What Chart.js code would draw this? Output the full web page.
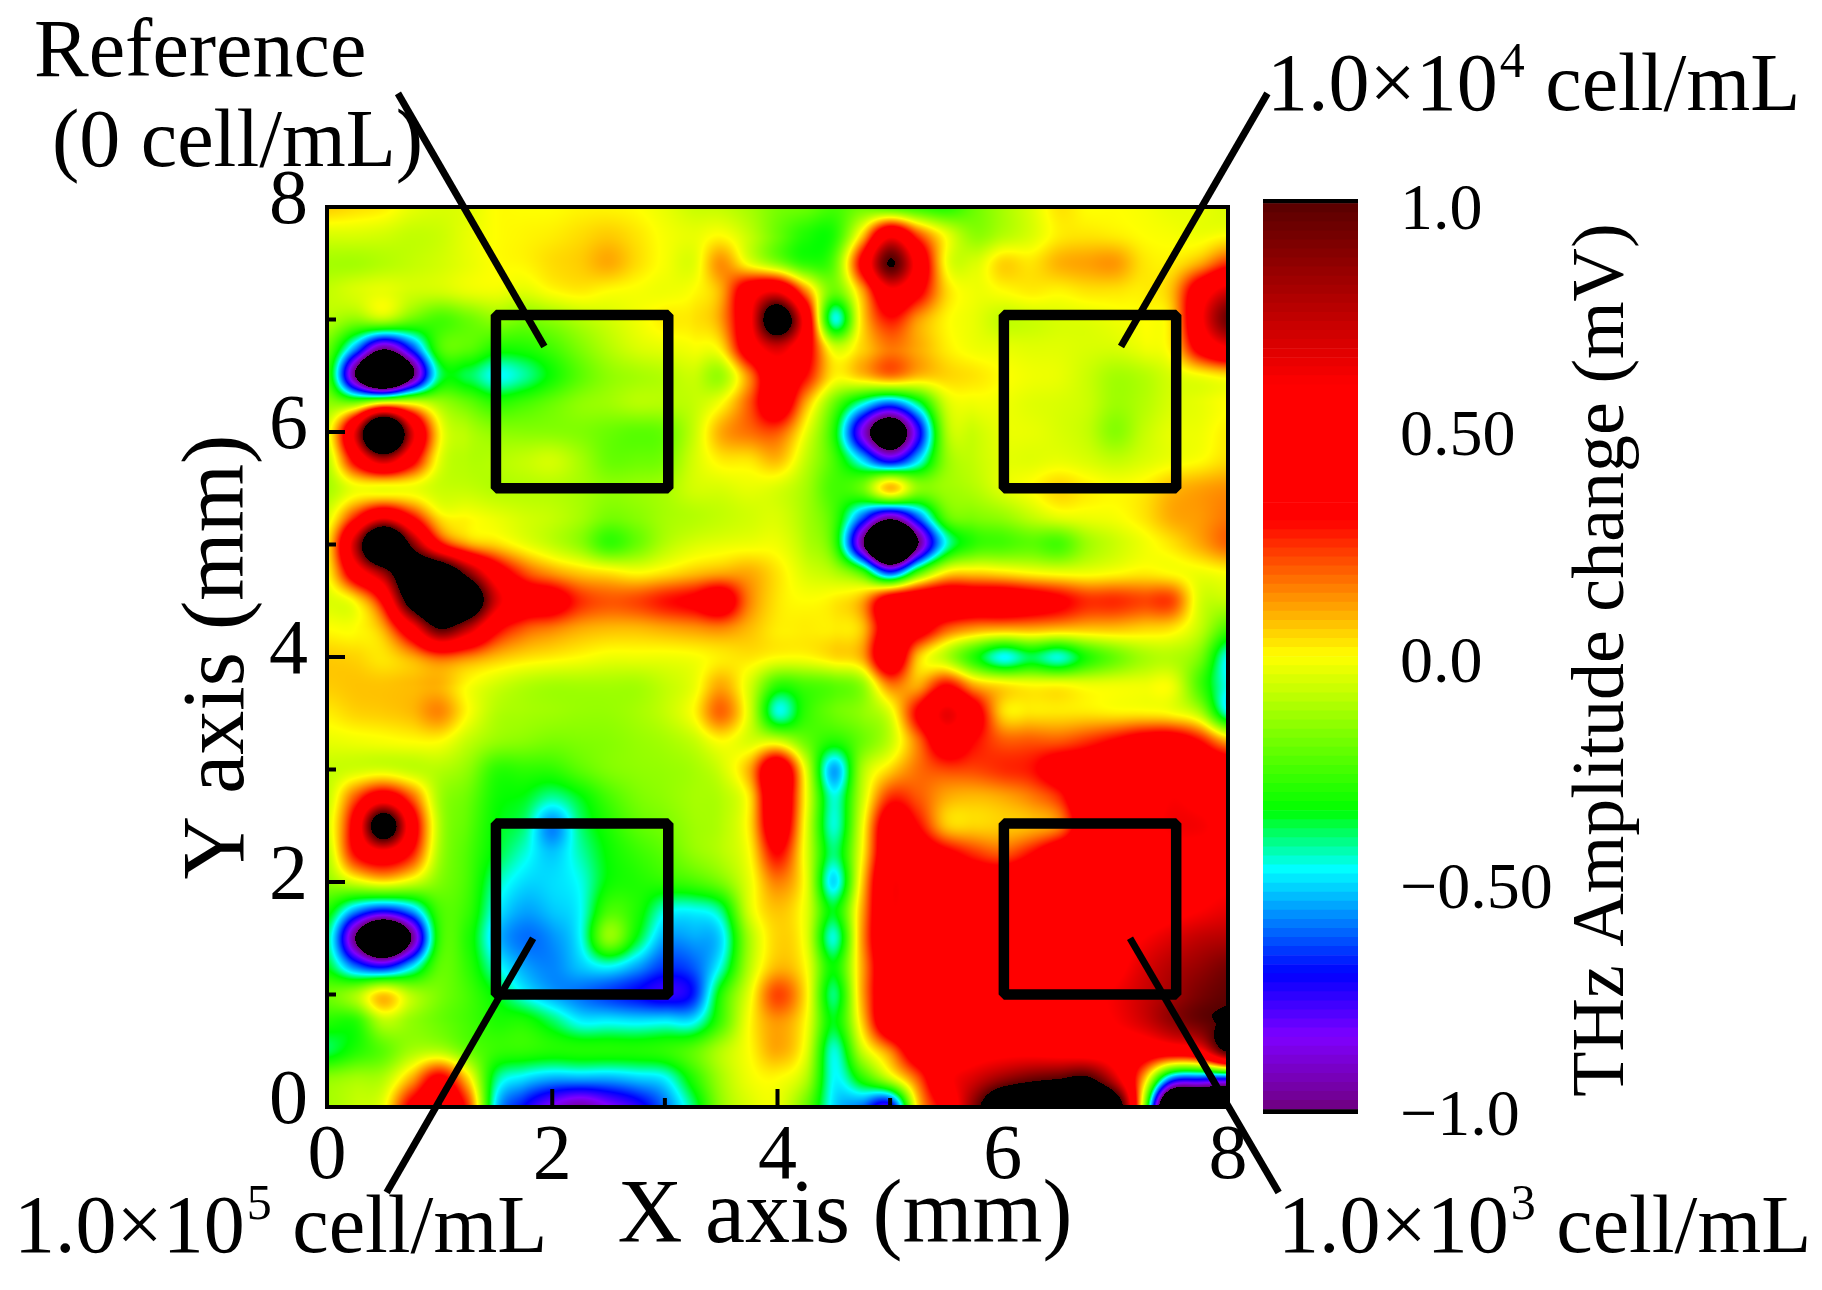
<!DOCTYPE html>
<html lang="en">
  <head>
    <meta charset="UTF-8" />
    <title>THz amplitude map</title>
    <style>
      body { margin: 0; background: #fff; }
      canvas { position: absolute; top: 0; }
    </style>
  </head>
  <body>
    <canvas id="map" width="1822" height="1290" style="left:0"></canvas>
    <canvas id="bar" width="582" height="1290" style="left:1240px"></canvas>
    <script src="https://cdn.jsdelivr.net/npm/chart.js"></script>
    <script>
      // one row per y position, top row first
      const gridX = [0,.25,.5,.75,1,1.25,1.5,1.75,2,2.25,2.5,2.75,3,3.25,3.5,3.75,4,4.25,4.5,4.75,5,5.25,5.5,5.75,6,6.25,6.5,6.75,7,7.25,7.5,7.75,8];
      const gridY = [8,7.75,7.5,7.25,7,6.75,6.5,6.25,6,5.75,5.5,5.25,5,4.75,4.5,4.25,4,3.75,3.5,3.25,3,2.75,2.5,2.25,2,1.75,1.5,1.25,1,.75,.5,.25,0];
      const amplitude = [
        [.06,.04,.02,-.03,-.05,-.04,0,0,0,.01,.01,0,-.03,-.07,-.08,-.12,-.18,-.2,-.25,-.2,-.25,-.28,-.3,-.2,-.12,-.05,.03,0,0,-.01,-.03,-.03,-.05],
        [-.05,-.05,-.06,-.08,-.07,-.03,0,.01,.02,.04,.06,.03,-.01,-.03,0,-.08,-.2,-.3,-.3,.05,.55,.22,-.02,-.15,-.1,-.05,.02,.03,.02,0,-.01,-.02,0],
        [-.12,-.12,-.1,-.08,-.06,-.03,0,.01,.04,.06,.1,.04,-.01,-.04,.13,-.02,-.15,-.28,-.22,.35,1.02,.5,-.01,-.05,.05,.03,.09,.11,.12,.03,.02,.1,.25],
        [-.08,-.05,-.03,-.06,-.06,-.03,-.02,-.04,0,.02,0,-.01,-.02,0,.1,.45,.6,.15,-.2,.1,.55,.35,.05,-.02,0,.02,.01,.03,.03,.02,.08,.45,.7],
        [-.1,-.15,-.1,-.2,-.25,-.2,-.15,-.18,-.15,-.1,-.06,-.02,.02,.03,.12,.55,1.3,.5,-.45,.04,.28,.12,.01,-.03,-.08,-.07,-.05,-.04,-.02,0,.05,.55,.95],
        [-.2,-.55,-.95,-.65,-.25,-.22,-.3,-.3,-.25,-.17,-.1,-.05,-.03,-.01,.03,.45,.7,.4,-.05,.05,.16,.1,.02,-.02,-.03,-.04,-.04,-.05,-.05,-.02,.03,.38,.6],
        [-.25,-1,-1.6,-1.05,-.4,-.38,-.47,-.42,-.32,-.22,-.15,-.12,-.1,-.07,-.13,.15,.5,.3,.02,.07,.16,.08,.05,.03,0,-.02,-.03,-.07,-.12,-.1,-.05,-.01,.03],
        [-.15,-.15,.05,0,-.12,-.2,-.28,-.25,-.2,-.15,-.13,-.1,-.1,-.08,0,.2,.45,.1,-.2,-.45,-.62,-.4,-.06,-.02,-.02,-.04,-.05,-.07,-.13,-.1,-.05,-.03,0],
        [-.05,.65,1.8,.7,.02,-.1,-.15,-.16,-.16,-.17,-.2,-.22,-.2,-.08,.1,.17,.2,-.02,-.3,-.85,-1.25,-.75,-.12,-.07,-.03,-.03,-.05,-.08,-.16,-.08,-.03,-.02,.02],
        [-.1,.35,.75,.38,-.03,-.1,-.1,-.08,-.06,-.12,-.2,-.2,-.18,-.06,.02,.03,.08,-.08,-.25,-.5,-.75,-.5,-.15,-.08,-.04,-.04,-.03,-.05,-.08,-.05,-.02,0,.04],
        [-.12,-.02,-.02,-.02,-.07,-.08,-.1,-.1,-.1,-.12,-.15,-.14,-.12,-.06,-.05,-.03,-.05,-.12,-.25,-.2,.08,-.15,-.13,-.1,-.04,0,.05,.02,0,.02,.08,.11,.13],
        [-.05,.25,.55,.3,.03,0,-.03,-.06,-.08,-.12,-.18,-.16,-.12,-.1,-.08,-.06,-.05,-.12,-.25,-.6,-.9,-.6,-.22,-.17,-.14,-.08,-.03,-.02,-.01,.03,.1,.12,.16],
        [.02,.75,1.7,.95,.35,.12,.05,-.02,-.08,-.15,-.27,-.2,-.1,-.05,-.03,-.02,-.02,-.1,-.25,-.95,-1.7,-1,-.45,-.28,-.25,-.22,-.25,-.13,-.07,-.02,.03,.1,.18],
        [0,.45,.85,1.4,1.4,.9,.45,.22,.12,.06,.03,0,.03,.07,.1,.1,.03,-.05,-.1,-.25,-.65,-.25,.02,.05,.03,0,-.02,-.02,0,.02,0,-.02,0],
        [-.05,.02,.35,1.2,1.6,1.4,.7,.45,.4,.25,.2,.22,.28,.33,.42,.15,.03,0,.02,.1,.45,.5,.5,.45,.45,.4,.33,.25,.25,.22,.22,-.05,-.08],
        [0,0,.1,.5,1,.75,.35,.2,.15,.1,.08,.08,.1,.12,.14,.08,.02,.02,.02,.07,.45,.4,.2,.12,.1,.1,.08,.07,.07,.05,.03,-.08,-.25],
        [.06,.05,.03,.1,.2,.15,.08,.04,.02,0,-.02,-.02,-.02,-.01,.02,.03,0,0,.04,.1,.5,.07,-.1,-.3,-.47,-.38,-.45,-.3,-.2,-.12,-.1,-.18,-.47],
        [.06,.07,.07,.08,.09,0,-.06,-.1,-.12,-.12,-.12,-.12,-.08,-.03,.1,-.05,-.28,-.25,-.22,-.15,.15,.1,.3,.1,.03,0,0,-.02,-.02,-.02,-.02,-.25,-.47],
        [.02,.05,.06,.08,.14,0,-.1,-.12,-.13,-.14,-.14,-.12,-.08,0,.18,-.05,-.45,-.28,-.2,-.15,-.04,.33,.65,.4,.05,.03,.03,.03,.02,.02,0,-.1,-.45],
        [-.03,-.02,-.01,0,0,-.08,-.14,-.16,-.18,-.17,-.16,-.14,-.12,-.08,0,-.05,-.05,-.2,-.3,-.2,-.08,.17,.45,.3,.2,.2,.2,.25,.32,.4,.42,.3,.1],
        [-.08,-.06,-.05,-.08,-.1,-.15,-.28,-.28,-.28,-.22,-.17,-.15,-.14,-.12,-.06,.1,.5,-.03,-.55,-.12,.05,.17,.22,.22,.25,.28,.4,.45,.5,.55,.55,.5,.45],
        [-.08,.2,.45,.2,-.12,-.2,-.32,-.35,-.42,-.35,-.25,-.18,-.15,-.12,-.1,.03,.5,0,-.45,-.08,.25,.2,.1,.08,.1,.15,.25,.5,.5,.5,.6,.55,.5],
        [-.06,.4,1.3,.45,-.1,-.22,-.34,-.4,-.58,-.4,-.3,-.22,-.18,-.13,-.1,.03,.45,-.02,-.45,-.03,.45,.3,.07,.05,.06,.08,.15,.45,.5,.55,.62,.62,.55],
        [-.1,.3,.5,.28,-.12,-.24,-.36,-.45,-.52,-.43,-.33,-.27,-.22,-.15,-.1,0,.3,-.03,-.4,0,.5,.45,.35,.25,.2,.3,.45,.5,.5,.5,.55,.55,.55],
        [-.15,-.05,.02,-.05,-.17,-.25,-.42,-.5,-.5,-.46,-.33,-.3,-.28,-.25,-.18,-.03,.15,-.02,-.5,.05,.58,.5,.48,.45,.45,.5,.5,.5,.5,.5,.52,.55,.58],
        [-.3,-.55,-.68,-.55,-.25,-.27,-.47,-.55,-.52,-.47,-.25,-.3,-.45,-.47,-.4,-.05,.07,-.03,-.35,.1,.58,.5,.5,.5,.5,.5,.5,.5,.5,.5,.55,.6,.65],
        [-.4,-1,-1.5,-1,-.28,-.3,-.52,-.6,-.57,-.47,-.15,-.35,-.55,-.55,-.5,-.12,.05,-.03,-.45,.12,.55,.5,.5,.5,.5,.5,.5,.5,.52,.6,.68,.75,.78],
        [-.35,-.6,-.72,-.5,-.22,-.28,-.45,-.55,-.58,-.52,-.47,-.55,-.65,-.62,-.45,-.1,.08,0,-.33,.1,.5,.5,.5,.5,.5,.5,.5,.5,.55,.68,.78,.85,.92],
        [-.2,-.12,.06,-.1,-.18,-.25,-.35,-.47,-.55,-.6,-.65,-.7,-.75,-.68,-.3,-.03,.22,.03,-.4,.1,.5,.5,.5,.5,.5,.5,.5,.55,.62,.72,.82,.92,.98],
        [-.3,-.3,-.1,-.15,-.2,-.25,-.3,-.3,-.38,-.47,-.47,-.48,-.47,-.47,-.25,0,.12,0,-.35,.05,.5,.5,.5,.5,.5,.52,.5,.55,.6,.7,.85,.95,1.03],
        [-.38,-.3,-.22,-.12,-.1,-.2,-.27,-.28,-.3,-.3,-.3,-.3,-.28,-.22,-.1,0,.1,-.03,-.45,-.08,.15,.45,.45,.52,.55,.55,.52,.5,.5,.45,.45,.55,1.05],
        [-.15,-.12,-.1,.1,.35,.05,-.4,-.5,-.55,-.55,-.55,-.52,-.48,-.3,-.12,-.02,0,-.1,-.47,-.3,-.08,.2,.55,.7,.85,.95,1,1.05,.7,.1,-.6,-.68,-.7],
        [-.12,-.08,-.02,.35,.5,.25,-.5,-.7,-.85,-.95,-.85,-.75,-.6,-.4,-.15,-.05,-.03,-.2,-.5,-.6,-.75,.05,.4,.9,1.4,1.5,1.5,1.5,1.3,-.1,-1.6,-1.6,-1.6]
      ];

      const xTicks = [0, 2, 4, 6, 8];
      const yTicks = [0, 2, 4, 6, 8];
      const minorTicks = [1, 3, 5, 7];
      const colorbarTicks = [-1, -0.5, 0, 0.5, 1];
      const colorbarLabels = ['\u22121.0', '\u22120.50', '0.0', '0.50', '1.0'];
      const colorbarSteps = 100;

      // colour map of the legend, value then rgb
      const colorStops = [
        [-1, [112, 0, 128]],
        [-0.84, [127, 0, 255]],
        [-0.7, [0, 0, 255]],
        [-0.47, [0, 255, 255]],
        [-0.34, [0, 255, 0]],
        [0, [255, 255, 0]],
        [0.3, [255, 0, 0]],
        [0.6, [255, 0, 0]],
        [1, [88, 0, 0]]
      ];

      // the four sample squares, in mm
      const squares = [
        [1.5, 5.5, 3.03, 7.04],
        [6.01, 5.5, 7.54, 7.04],
        [1.5, 1, 3.03, 2.52],
        [6.01, 1, 7.54, 2.52]
      ];
      // leader lines, in mm, running out past the axes
      const leaders = [
        [0.63, 9.01, 1.93, 6.76],
        [8.35, 9.01, 7.05, 6.76],
        [1.83, 1.5, 0.53, -0.76],
        [7.13, 1.5, 8.45, -0.76]
      ];

      const serif = '"Liberation Serif", serif';

      function colorFor(v) {
        if (v > 1 || v < -1) return [0, 0, 0];
        for (let i = 1; i < colorStops.length; i++) {
          if (v <= colorStops[i][0]) {
            const a = colorStops[i - 1];
            const b = colorStops[i];
            const t = (v - a[0]) / (b[0] - a[0]);
            return [0, 1, 2].map((k) => a[1][k] + (b[1][k] - a[1][k]) * t);
          }
        }
        return colorStops[colorStops.length - 1][1];
      }

      // smooth shading between the grid nodes, like a contour fill
      function cubic(a, b, c, d, t) {
        return b + 0.5 * t * (c - a + t * (2 * a - 5 * b + 4 * c - d + t * (3 * (b - c) + d - a)));
      }
      function valueAt(x, y) {
        const n = gridX.length - 1;
        const fx = Math.min(Math.max(x / 0.25, 0), n);
        const fy = Math.min(Math.max((8 - y) / 0.25, 0), n);
        const ix = Math.min(Math.floor(fx), n - 1);
        const iy = Math.min(Math.floor(fy), n - 1);
        const col = [];
        for (let j = -1; j <= 2; j++) {
          const row = amplitude[Math.min(Math.max(iy + j, 0), n)];
          const at = (i) => row[Math.min(Math.max(i, 0), n)];
          col.push(cubic(at(ix - 1), at(ix), at(ix + 1), at(ix + 2), fx - ix));
        }
        return cubic(col[0], col[1], col[2], col[3], fy - iy);
      }

      const heatPlugin = {
        id: 'heat',
        beforeDatasetsDraw(chart) {
          const { ctx, chartArea: area, scales } = chart;
          const w = Math.round(area.right - area.left);
          const h = Math.round(area.bottom - area.top);
          const off = document.createElement('canvas');
          off.width = w;
          off.height = h;
          const octx = off.getContext('2d');
          const img = octx.createImageData(w, h);
          for (let py = 0; py < h; py++) {
            const y = scales.y.getValueForPixel(area.top + py + 0.5);
            for (let px = 0; px < w; px++) {
              const x = scales.x.getValueForPixel(area.left + px + 0.5);
              const c = colorFor(valueAt(x, y));
              const p = (py * w + px) * 4;
              img.data[p] = c[0];
              img.data[p + 1] = c[1];
              img.data[p + 2] = c[2];
              img.data[p + 3] = 255;
            }
          }
          octx.putImageData(img, 0, 0);
          ctx.drawImage(off, area.left, area.top);
        },
        afterDatasetsDraw(chart) {
          const { ctx, chartArea: area, scales } = chart;
          const sx = (v) => scales.x.getPixelForValue(v);
          const sy = (v) => scales.y.getPixelForValue(v);
          ctx.save();
          ctx.strokeStyle = '#000';

          // inward ticks
          ctx.lineWidth = 4;
          const tick = (v, len) => {
            ctx.beginPath();
            ctx.moveTo(sx(v), area.bottom);
            ctx.lineTo(sx(v), area.bottom - len);
            ctx.moveTo(area.left, sy(v));
            ctx.lineTo(area.left + len, sy(v));
            ctx.stroke();
          };
          xTicks.forEach((v) => tick(v, 18));
          minorTicks.forEach((v) => tick(v, 9));

          ctx.strokeRect(area.left, area.top, area.right - area.left, area.bottom - area.top);

          ctx.lineWidth = 10.5;
          ctx.lineJoin = 'bevel';
          for (const s of squares) {
            ctx.strokeRect(sx(s[0]), sy(s[3]), sx(s[2]) - sx(s[0]), sy(s[1]) - sy(s[3]));
          }

          ctx.lineWidth = 7;
          for (const l of leaders) {
            ctx.beginPath();
            ctx.moveTo(sx(l[0]), sy(l[1]));
            ctx.lineTo(sx(l[2]), sy(l[3]));
            ctx.stroke();
          }

          ctx.fillStyle = '#000';
          ctx.textBaseline = 'alphabetic';
          ctx.font = '82px ' + serif;
          ctx.fillText('Reference', 34, 76);
          ctx.fillText('(0 cell/mL)', 52, 166);
          concLabel(ctx, '4', 1267, 110);
          concLabel(ctx, '5', 14, 1252);
          concLabel(ctx, '3', 1278, 1252);

          ctx.font = '90px ' + serif;
          ctx.textAlign = 'center';
          ctx.fillText('X axis (mm)', 845, 1242);
          ctx.restore();
        }
      };

      function concLabel(ctx, exp, x, y) {
        ctx.font = '82px ' + serif;
        ctx.fillText('1.0\u00d710', x, y);
        x += ctx.measureText('1.0\u00d710').width;
        ctx.font = '50px ' + serif;
        ctx.fillText(exp, x + 2, y - 33);
        x += ctx.measureText(exp).width + 2;
        ctx.font = '82px ' + serif;
        ctx.fillText(' cell/mL', x, y);
      }

      const points = [];
      gridY.forEach((y, j) => {
        gridX.forEach((x, i) => {
          points.push({ x: x, y: y, v: amplitude[j][i] });
        });
      });

      new Chart(document.getElementById('map'), {
        type: 'scatter',
        data: { datasets: [{ label: 'THz amplitude change', data: points, pointRadius: 0 }] },
        options: {
          responsive: false,
          animation: false,
          layout: { padding: { left: 168, right: 594, top: 207, bottom: 34 } },
          plugins: { legend: { display: false }, tooltip: { enabled: false } },
          scales: {
            x: {
              type: 'linear',
              min: 0,
              max: 8,
              afterFit(s) { s.height = 149; },
              afterBuildTicks(s) { s.ticks = xTicks.map((v) => ({ value: v })); },
              grid: { display: false },
              border: { display: false },
              ticks: { color: '#000', font: { family: serif, size: 78 }, padding: -4, maxRotation: 0 }
            },
            y: {
              type: 'linear',
              min: 0,
              max: 8,
              afterFit(s) { s.width = 159; },
              afterBuildTicks(s) { s.ticks = yTicks.map((v) => ({ value: v })); },
              grid: { display: false },
              border: { display: false },
              ticks: { color: '#000', font: { family: serif, size: 78 }, padding: 11, labelOffset: -4 },
              title: {
                display: true,
                text: 'Y axis (mm)',
                color: '#000',
                font: { family: serif, size: 88, lineHeight: 1 },
                padding: { top: 8, bottom: 0 }
              }
            }
          }
        },
        plugins: [heatPlugin]
      });

      // colour bar: one floating bar per band
      const bands = [{ label: 'low', data: [[-1.01, -1]], backgroundColor: '#000', barPercentage: 1, categoryPercentage: 1 }];
      for (let i = 0; i < colorbarSteps; i++) {
        const lo = -1 + (2 * i) / colorbarSteps;
        const hi = -1 + (2 * (i + 1)) / colorbarSteps;
        const c = colorFor((lo + hi) / 2);
        bands.push({
          label: 'band' + i,
          data: [[lo, hi]],
          backgroundColor: `rgb(${c[0]}, ${c[1]}, ${c[2]})`,
          borderWidth: 0,
          barPercentage: 1,
          categoryPercentage: 1
        });
      }
      bands.push({ label: 'high', data: [[1, 1.01]], backgroundColor: '#000', barPercentage: 1, categoryPercentage: 1 });

      const barTitle = {
        id: 'barTitle',
        afterDraw(chart) {
          const ctx = chart.ctx;
          ctx.save();
          ctx.translate(383, 660);
          ctx.rotate(-Math.PI / 2);
          ctx.font = '74px ' + serif;
          ctx.fillStyle = '#000';
          ctx.textAlign = 'center';
          ctx.textBaseline = 'alphabetic';
          ctx.fillText('THz Amplitude change (mV)', 0, 0);
          ctx.restore();
        }
      };

      new Chart(document.getElementById('bar'), {
        type: 'bar',
        data: { labels: ['amplitude'], datasets: bands },
        options: {
          responsive: false,
          animation: false,
          layout: { padding: { left: 23, top: 199, bottom: 176, right: 0 } },
          plugins: { legend: { display: false }, tooltip: { enabled: false } },
          datasets: { bar: { grouped: false } },
          scales: {
            x: { display: false },
            y: {
              type: 'linear',
              position: 'right',
              min: -1.01,
              max: 1.01,
              afterFit(s) { s.width = 464; },
              afterBuildTicks(s) { s.ticks = colorbarTicks.map((v) => ({ value: v })); },
              grid: { display: false, drawTicks: false },
              border: { display: false },
              ticks: {
                color: '#000',
                font: { family: serif, size: 66 },
                padding: 42,
                labelOffset: 8,
                callback(v) { return colorbarLabels[colorbarTicks.indexOf(v)]; }
              }
            }
          }
        },
        plugins: [barTitle]
      });
    </script>
  </body>
</html>
